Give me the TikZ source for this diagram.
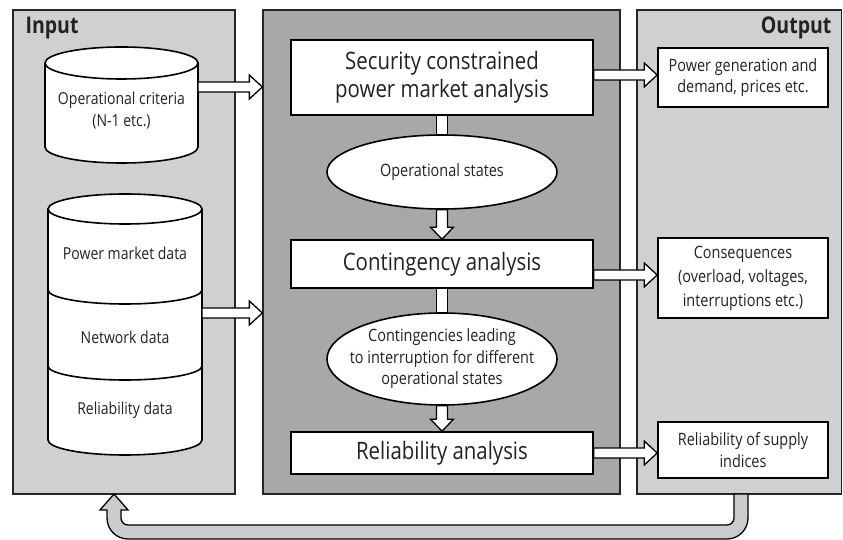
\documentclass[tikz,border=0pt]{standalone}
\usepackage{fontspec}
\setmainfont{Open Sans}[FakeStretch=0.85]
\usetikzlibrary{shapes.geometric,calc}
\definecolor{panelL}{HTML}{D0D0D0}
\definecolor{panelD}{HTML}{A8A8A8}
\definecolor{fbk}{HTML}{CCCCCC}
\definecolor{ink}{HTML}{222222}
\newcommand{\fatH}[2]{\draw[fat] let \p1=(#1), \p2=(#2) in (\x1,\y1+5pt) -- (\x2-13pt,\y1+5pt) -- (\x2-13pt,\y1+12pt) -- (\x2,\y1) -- (\x2-13pt,\y1-12pt) -- (\x2-13pt,\y1-5pt) -- (\x1,\y1-5pt) -- cycle;}
\newcommand{\fatV}[2]{\draw[fat] let \p1=(#1), \p2=(#2) in (\x1-5.5pt,\y1) -- (\x1-5.5pt,\y2+12pt) -- (\x1-11.5pt,\y2+12pt) -- (\x1,\y2) -- (\x1+11.5pt,\y2+12pt) -- (\x1+5.5pt,\y2+12pt) -- (\x1+5.5pt,\y1) -- cycle;}
\newcommand{\barV}[2]{\draw[fat] let \p1=(#1), \p2=(#2) in (\x1-5.5pt,\y1) rectangle (\x1+5.5pt,\y2);}
\begin{document}
\begin{tikzpicture}[x=1pt,y=1pt,
 panel/.style={draw=black!85,line width=1.3pt,inner sep=0pt},
 box/.style={draw=black,line width=1.6pt,fill=white,inner sep=0pt,align=center,text=ink},
 oval/.style={ellipse,draw=black,line width=1.6pt,fill=white,inner sep=0pt,align=center,text=ink},
 fat/.style={draw=black,line width=1.3pt,fill=white,line join=miter},
 cyl/.style={draw=black,line width=1.6pt,fill=white},
 title/.style={font=\fontsize{23}{26}\selectfont\bfseries,text=ink},
 big/.style={font=\fontsize{24}{28}\selectfont},
 small/.style={font=\fontsize{17}{21.5}\selectfont},
 ctext/.style={font=\fontsize{16.5}{22}\selectfont,align=center,text=ink}]
\useasboundingbox (0,0) rectangle (843,540);
% panels
\node[panel,fill=panelL,minimum width=222pt,minimum height=484pt] (input) at (124,288) {};
\node[panel,fill=panelD,minimum width=357pt,minimum height=484pt] (mid) at (441.5,288) {};
\node[panel,fill=panelL,minimum width=204.5pt,minimum height=484pt] (output) at (739.25,288) {};
\node[title,anchor=west] (tin) at (22,512) {Input};
\node[title,anchor=east] (tout) at (835,512) {Output};
% cylinder 1
\draw[cyl] (45,477) -- (45,393) arc[start angle=180,end angle=360,x radius=76.5,y radius=16] -- (198,477) arc[start angle=0,end angle=180,x radius=76.5,y radius=16] -- cycle;
\draw[cyl,fill=none] (45,477) arc[start angle=180,end angle=360,x radius=76.5,y radius=16];
\node[ctext] (crit) at (121.5,429) {Operational criteria\\(N-1 etc.)};
% cylinder 2
\draw[cyl] (48,331) -- (48,100) arc[start angle=180,end angle=360,x radius=77,y radius=15] -- (202,331) arc[start angle=0,end angle=180,x radius=77,y radius=15] -- cycle;
\draw[cyl,fill=none] (48,331) arc[start angle=180,end angle=360,x radius=77,y radius=15];
\draw[cyl,fill=none] (48,250) arc[start angle=180,end angle=360,x radius=77,y radius=14];
\draw[cyl,fill=none] (48,174) arc[start angle=180,end angle=360,x radius=77,y radius=14];
\node[ctext] (pmd) at (125,287) {Power market data};
\node[ctext] (nwd) at (125,203) {Network data};
\node[ctext] (rld) at (125,130) {Reliability data};
\coordinate (c1) at (198,453);
\coordinate (c2) at (202,227);
% middle
\node[box,big,minimum width=302pt,minimum height=75pt] (B1) at (442,462.5) {Security constrained\\power market analysis};
\node[oval,small,minimum width=230pt,minimum height=74pt] (E1) at (442,368) {Operational states};
\node[box,big,minimum width=302pt,minimum height=48pt] (B2) at (442,276) {Contingency analysis};
\node[oval,minimum width=230pt,minimum height=92pt] (E2) at (442,181) {};
\node[small,align=center,text=ink,inner sep=0pt] (E2t) at (E2.center) {Contingencies leading\\to interruption for different\\operational states};
\node[box,big,minimum width=302pt,minimum height=42pt] (B3) at (442,87) {Reliability analysis};
% outputs
\node[box,small,font=\fontsize{17}{20.5}\selectfont,minimum width=170pt,minimum height=59pt] (O1) at (743,462.5) {Power generation and\\demand, prices etc.};
\node[box,small,font=\fontsize{17}{24}\selectfont,minimum width=170pt,minimum height=80pt] (O2) at (743,262) {Consequences\\(overload, voltages,\\interruptions etc.)};
\node[box,small,font=\fontsize{17}{22}\selectfont,minimum width=170pt,minimum height=56pt] (O3) at (743,90) {Reliability of supply\\indices};
% arrows
\fatH{c1}{mid.west}
\fatH{c2}{mid.west}
\fatH{$(B1.east)+(0,2.5)$}{O1.west}
\fatH{$(B2.east)+(0,-11)$}{O2.west}
\fatH{B3.east}{O3.west}
\barV{B1.south}{E1.north}
\fatV{E1.south}{B2.north}
\barV{B2.south}{E2.north}
\fatV{E2.south}{B3.north}
% feedback
\coordinate (fbs) at (741,46);
\coordinate (fbe) at (114,46);
\draw[fat,fill=fbk] let \p1=(fbs), \p2=(fbe) in (\x1+7pt,\y1) -- (\x1+7pt,22pt) arc[start angle=0,end angle=-90,radius=21pt] -- (\x2+14pt,1pt) arc[start angle=270,end angle=180,radius=21pt] -- (\x2-7pt,\y2-16pt) -- (\x2-14pt,\y2-16pt) -- (\x2,\y2) -- (\x2+14pt,\y2-16pt) -- (\x2+7pt,\y2-16pt) -- (\x2+7pt,22pt) arc[start angle=180,end angle=270,radius=7pt] -- (\x1-14pt,15pt) arc[start angle=-90,end angle=0,radius=7pt] -- (\x1-7pt,\y1) -- cycle;
\end{tikzpicture}
\end{document}
